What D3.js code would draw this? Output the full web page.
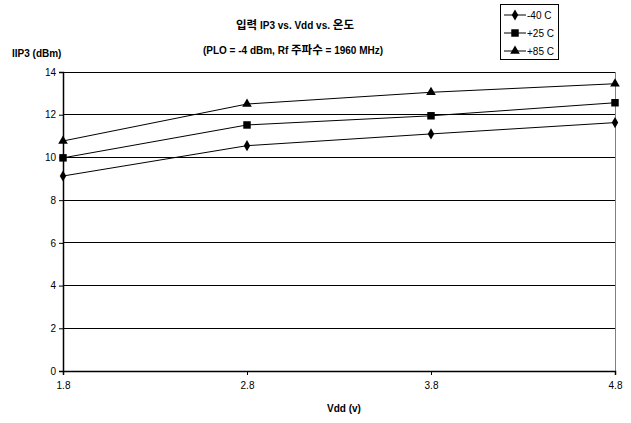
<!DOCTYPE html>
<html><head><meta charset="utf-8">
<script src="https://cdn.jsdelivr.net/npm/d3@7"></script>
<style>body{margin:0;background:#fff}svg{display:block}text{font-family:Arial,"Liberation Sans","Noto Sans CJK KR",sans-serif}</style>
</head><body>
<script>
const vdd = [1.8, 2.8, 3.8, 4.8];
const seriesNames = ["-40 C", "+25 C", "+85 C"];
const m40 = [9.13, 10.55, 11.1, 11.63];
const p25 = [9.98, 11.52, 11.95, 12.56];
const p85 = [10.77, 12.5, 13.05, 13.45];
const yTicks = [0, 2, 4, 6, 8, 10, 12, 14];
const xTickLabels = ["1.8", "2.8", "3.8", "4.8"];
const symbols = [d3.symbolDiamond, d3.symbolSquare, d3.symbolTriangle];
const symSizes = [36, 56, 40];
const allSeries = [m40, p25, p85];

const W = 631, H = 423;
const svg = d3.select("body").append("svg").attr("width", W).attr("height", H);
const x = d3.scaleLinear().domain([1.8, 4.8]).range([63, 615]);
const y = d3.scaleLinear().domain([0, 14]).range([371, 72]);

svg.append("g").selectAll("line").data(yTicks.slice(1)).join("line")
  .attr("x1", x(1.8)).attr("x2", x(4.8)).attr("y1", d => y(d)).attr("y2", d => y(d))
  .attr("stroke", "#000").attr("stroke-width", 1).attr("shape-rendering", "crispEdges");
svg.append("line").attr("x1", x(4.8)).attr("x2", x(4.8)).attr("y1", y(14)).attr("y2", y(0))
  .attr("stroke", "#808080").attr("shape-rendering", "crispEdges");

const yAxis = svg.append("g").attr("transform", `translate(${x(1.8)},0)`)
  .call(d3.axisLeft(y).tickValues(yTicks).tickSize(4).tickPadding(3).tickFormat(d3.format("d")));
const xAxis = svg.append("g").attr("transform", `translate(0,${y(0)})`)
  .call(d3.axisBottom(x).tickValues(vdd).tickSize(4).tickPadding(7).tickFormat((d, i) => xTickLabels[i]));
[yAxis, xAxis].forEach(g => {
  g.select(".domain").attr("stroke", "#000").attr("stroke-width", 1.5);
  g.selectAll(".tick line").attr("stroke", "#000");
  g.selectAll("text").attr("font-size", 10).attr("fill", "#000").attr("font-family", "Arial, 'Liberation Sans', sans-serif");
});

const line = d3.line().x((d, i) => x(vdd[i])).y(d => y(d));
allSeries.forEach((s, k) => {
  svg.append("path").datum(s).attr("d", line).attr("fill", "none").attr("stroke", "#000").attr("stroke-width", 1);
  svg.append("g").selectAll("path").data(s).join("path")
    .attr("transform", (d, i) => `translate(${x(vdd[i])},${y(d)})`)
    .attr("d", d3.symbol().type(symbols[k]).size(symSizes[k])).attr("fill", "#000");
});

// titles
const t1 = svg.append("text").attr("x", 295).attr("y", 29).attr("text-anchor", "middle")
  .attr("font-size", 10).attr("font-weight", "bold");
t1.append("tspan").attr("font-size", 11.5).text("입력");
t1.append("tspan").text(" IP3 vs. Vdd vs. ");
t1.append("tspan").attr("font-size", 11.5).text("온도");
const t2 = svg.append("text").attr("x", 293).attr("y", 54).attr("text-anchor", "middle")
  .attr("font-size", 10).attr("font-weight", "bold");
t2.append("tspan").text("(PLO = -4 dBm, Rf ");
t2.append("tspan").attr("font-size", 11.5).text("주파수");
t2.append("tspan").text(" = 1960 MHz)");
svg.append("text").attr("x", 12).attr("y", 57).attr("font-size", 10).attr("font-weight", "bold").text("IIP3 (dBm)");
svg.append("text").attr("x", 344).attr("y", 412).attr("text-anchor", "middle")
  .attr("font-size", 10).attr("font-weight", "bold").text("Vdd (v)");

// legend
const lg = svg.append("g");
lg.append("rect").attr("x", 500.5).attr("y", 4.5).attr("width", 58).attr("height", 55)
  .attr("fill", "#fff").attr("stroke", "#000");
seriesNames.forEach((n, k) => {
  const ly = 15 + k * 18;
  lg.append("line").attr("x1", 504).attr("x2", 526).attr("y1", ly).attr("y2", ly).attr("stroke", "#000");
  lg.append("path").attr("transform", `translate(515,${ly})`)
    .attr("d", d3.symbol().type(symbols[k]).size(symSizes[k])).attr("fill", "#000");
  lg.append("text").attr("x", 527).attr("y", ly + 4).attr("font-size", 10).text(n);
});
</script>
</body></html>
